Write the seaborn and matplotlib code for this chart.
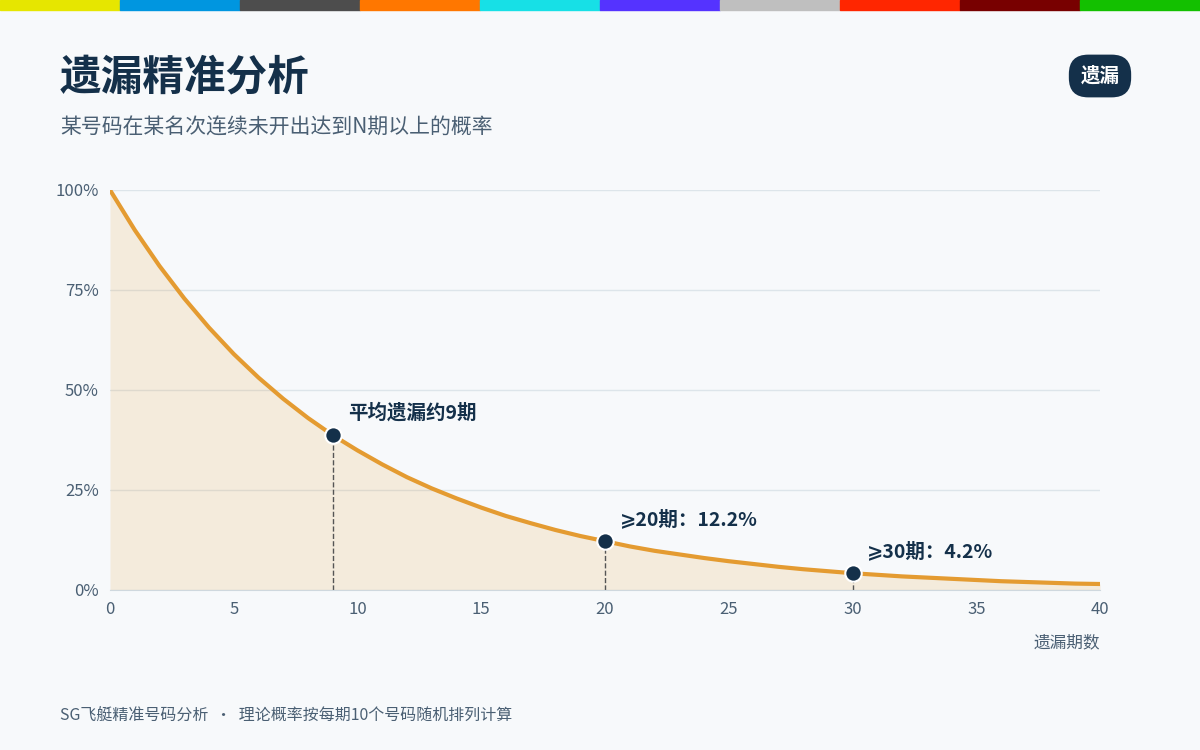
import matplotlib.pyplot as plt
import matplotlib.patches as mpatches
import seaborn as sns
import pandas as pd

# 遗漏期数 vs 概率
periods = list(range(0, 41))
probs = [1.000, 0.900, 0.810, 0.729, 0.656, 0.590, 0.531, 0.478, 0.430, 0.387,
         0.349, 0.314, 0.282, 0.254, 0.229, 0.206, 0.185, 0.167, 0.150, 0.135,
         0.122, 0.109, 0.098, 0.089, 0.080, 0.072, 0.065, 0.058, 0.052, 0.047,
         0.042, 0.038, 0.034, 0.031, 0.028, 0.025, 0.022, 0.020, 0.018, 0.016,
         0.015]
mark_x = [9, 20, 30]
mark_y = [0.387, 0.122, 0.042]
mark_labels = ["平均遗漏约9期", "⩾20期：12.2%", "⩾30期：4.2%"]
top_colors = ["#e6e600", "#0096e0", "#4d4d4d", "#ff7700", "#17e0e6",
              "#5533ff", "#bfbfbf", "#ff2600", "#780000", "#13c000"]

sns.set_style("white")
plt.rcParams['font.family'] = ['Noto Sans CJK SC', 'DejaVu Sans']

bg = "#f7f9fb"
navy = "#14304a"
orange = "#e49b31"
fig = plt.figure(figsize=(12, 7.5), dpi=100, facecolor=bg)

# top color strip
for i, c in enumerate(top_colors):
    fig.patches.append(mpatches.Rectangle((i / 10, 1 - 10 / 750), 0.1, 10 / 750,
                                          transform=fig.transFigure, color=c))

ax = fig.add_axes([110 / 1200, 1 - 590 / 750, 990 / 1200, 400 / 750])
ax.set_facecolor(bg)
df = pd.DataFrame({"N": periods, "p": probs})
ax.fill_between(df["N"], df["p"], color=orange, alpha=0.15, lw=0)
sns.lineplot(data=df, x="N", y="p", ax=ax, color=orange, lw=3)

for x, y in zip(mark_x, mark_y):
    ax.plot([x, x], [0, y], ls="--", color="#555555", lw=1)
ax.scatter(mark_x, mark_y, s=140, color=navy, zorder=5, edgecolor="white", lw=1.5)
offsets = [(0.6, 0.055), (0.6, 0.055), (0.6, 0.055)]
for x, y, t, (dx, dy) in zip(mark_x, mark_y, mark_labels, offsets):
    ax.text(x + dx, y + dy, t, fontsize=14, fontweight="bold", color=navy,
            va="center", ha="left")

ax.set_xlim(0, 40)
ax.set_ylim(0, 1)
ax.set_xticks([0, 5, 10, 15, 20, 25, 30, 35, 40])
ax.set_yticks([0, 0.25, 0.5, 0.75, 1.0])
ax.set_yticklabels(["0%", "25%", "50%", "75%", "100%"])
ax.tick_params(colors="#4a5f73", labelsize=12, length=0, pad=8)
ax.grid(axis="y", color="#dde5ea", lw=1)
for s in ["top", "right", "left"]:
    ax.spines[s].set_visible(False)
ax.spines["bottom"].set_color("#cfd8de")
ax.set_xlabel("")
ax.set_ylabel("")
fig.text(1100 / 1200, 1 - 643 / 750, "遗漏期数", ha="right", va="center",
         fontsize=12, color="#4a5f73")

fig.text(60 / 1200, 1 - 77 / 750, "遗漏精准分析", fontsize=30, fontweight="bold",
         color=navy, va="center")
fig.text(60 / 1200, 1 - 128 / 750, "某号码在某名次连续未开出达到N期以上的概率",
         fontsize=15, color="#4a5f73", va="center")
fig.text(1100 / 1200, 1 - 76 / 750, "遗漏", fontsize=14, fontweight="bold",
         color="white", ha="center", va="center",
         bbox=dict(boxstyle="round,pad=0.6,rounding_size=1.0", fc=navy, ec="none"))
fig.text(60 / 1200, 1 - 716 / 750, "SG飞艇精准号码分析  ·  理论概率按每期10个号码随机排列计算",
         fontsize=11.5, color="#4a5f73", va="center")

fig.savefig("out.png", dpi=100, facecolor=bg)
